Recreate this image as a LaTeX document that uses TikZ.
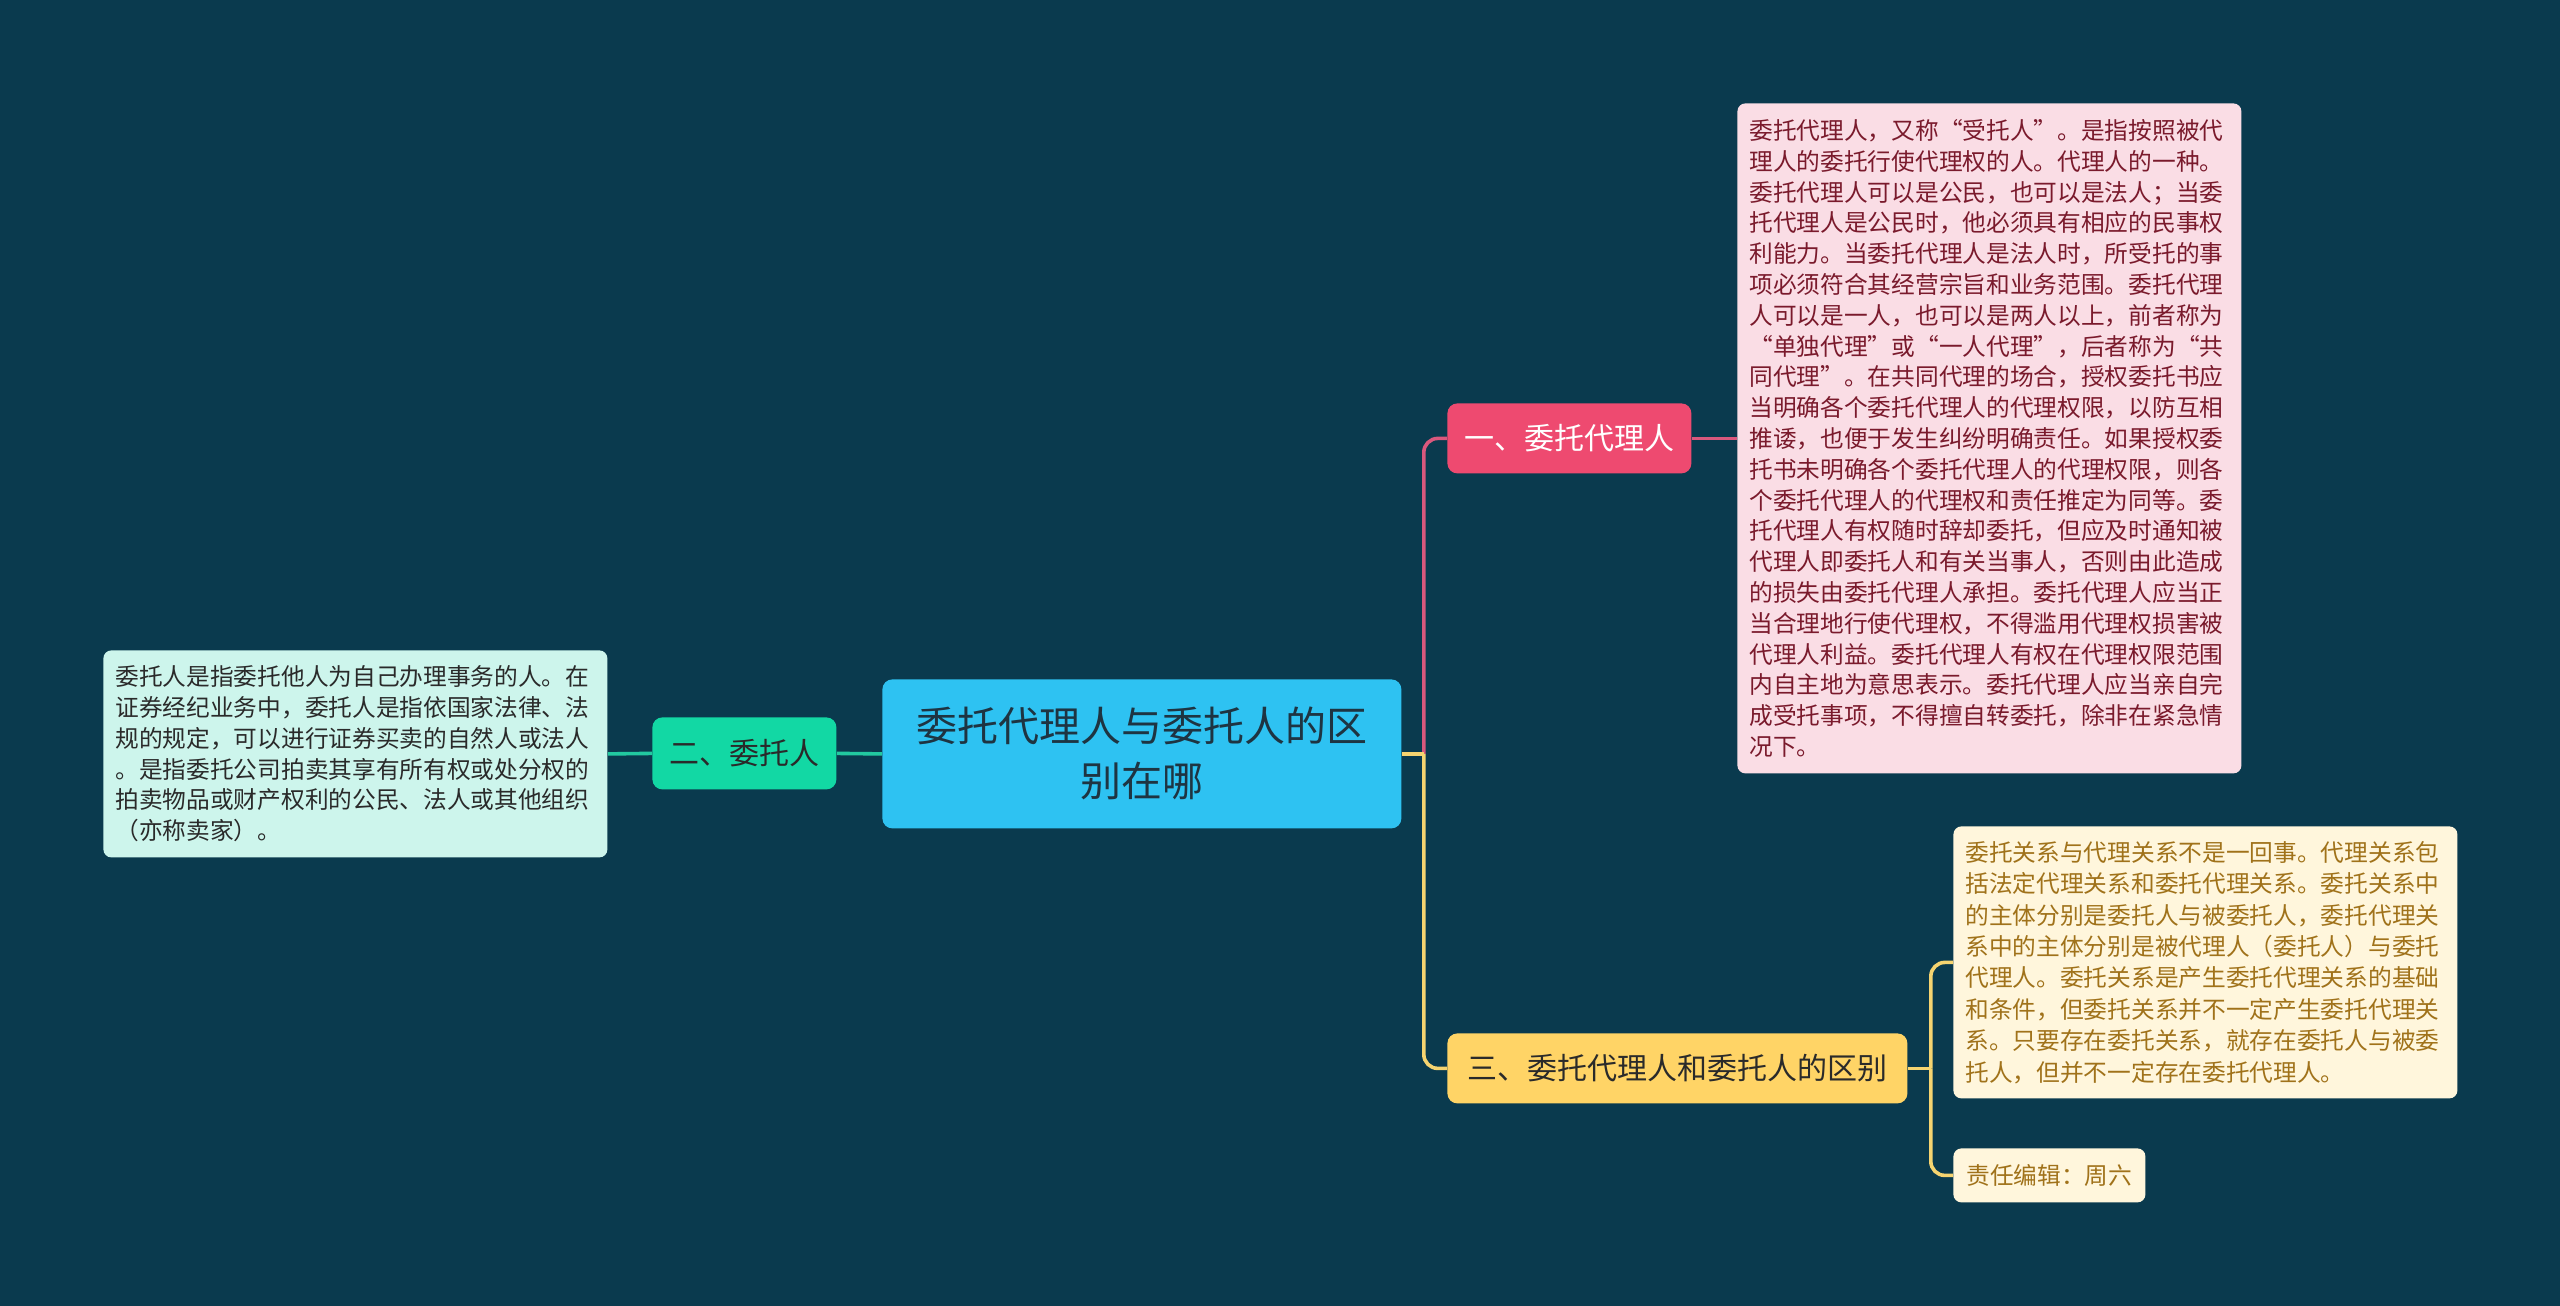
\documentclass[tikz,border=0pt]{standalone}
\usepackage{fontspec}
\setmainfont{Noto Sans CJK SC}
\usepackage{xcolor}
\usepackage{tikz}
\usetikzlibrary{positioning}

\newcommand{\openq}{\makebox[1em][r]{“}}
\newcommand{\closeq}{\makebox[1em][l]{”}}

\definecolor{bgblue}{HTML}{0A3A4E}
\definecolor{rootblue}{HTML}{2EC2F2}
\definecolor{roottext}{HTML}{1E3442}
\definecolor{pinktopic}{HTML}{EE4A70}
\definecolor{pinkline}{HTML}{D9587D}
\definecolor{pinknote}{HTML}{FADDE5}
\definecolor{pinktext}{HTML}{7A1A2C}
\definecolor{greentopic}{HTML}{12D8A4}
\definecolor{greenline}{HTML}{22C9A0}
\definecolor{greennote}{HTML}{CDF5EC}
\definecolor{greentext}{HTML}{2A2A2A}
\definecolor{yellowtopic}{HTML}{FFD466}
\definecolor{yellowline}{HTML}{F6D470}
\definecolor{yellownote}{HTML}{FFF6DC}
\definecolor{yellowtext}{HTML}{A0721A}

\begin{document}
\begin{tikzpicture}[
    x=0.5pt, y=-0.5pt,
    topic/.style={anchor=north west, rounded corners=5pt, inner sep=0pt, minimum height=35pt, font=\fontsize{15pt}{18pt}\selectfont},
    note/.style={anchor=north west, rounded corners=4pt, align=left, inner xsep=6pt, text width=240pt, font=\fontsize{11.85pt}{15.4pt}\selectfont},
    link/.style={line width=1.8pt, rounded corners=7pt}
]

\useasboundingbox (0,0) rectangle (2560,1306);
\fill[bgblue] (0,0) rectangle (2560,1306);

\node[anchor=north west, fill=rootblue, text=roottext, rounded corners=5pt, minimum width=259.5pt, minimum height=74.5pt, align=center, font=\fontsize{20.5pt}{27.5pt}\selectfont] (root) at (882,679) {委托代理人与委托人的区\\别在哪};

\node[topic, fill=pinktopic, text=white, minimum width=122pt] (agent) at (1447,403) {一、委托代理人};
\node[topic, fill=greentopic, text=greentext, minimum width=92pt, minimum height=36pt] (principal) at (652,717) {二、委托人};
\node[topic, fill=yellowtopic, text=greentext, minimum width=230pt] (diff) at (1447,1033) {三、委托代理人和委托人的区别};

\node[note, fill=pinknote, text=pinktext, minimum height=335pt] (agentnote) at (1737,103) {委托代理人，又称\openq 受托人\closeq 。是指按照被代\\理人的委托行使代理权的人。代理人的一种。\\委托代理人可以是公民，也可以是法人；当委\\托代理人是公民时，他必须具有相应的民事权\\利能力。当委托代理人是法人时，所受托的事\\项必须符合其经营宗旨和业务范围。委托代理\\人可以是一人，也可以是两人以上，前者称为\\\openq 单独代理\closeq 或\openq 一人代理\closeq ，后者称为\openq 共\\同代理\closeq 。在共同代理的场合，授权委托书应\\当明确各个委托代理人的代理权限，以防互相\\推诿，也便于发生纠纷明确责任。如果授权委\\托书未明确各个委托代理人的代理权限，则各\\个委托代理人的代理权和责任推定为同等。委\\托代理人有权随时辞却委托，但应及时通知被\\代理人即委托人和有关当事人，否则由此造成\\的损失由委托代理人承担。委托代理人应当正\\当合理地行使代理权，不得滥用代理权损害被\\代理人利益。委托代理人有权在代理权限范围\\内自主地为意思表示。委托代理人应当亲自完\\成受托事项，不得擅自转委托，除非在紧急情\\况下。};

\node[note, fill=greennote, text=greentext, minimum height=103.5pt] (principalnote) at (103,650) {委托人是指委托他人为自己办理事务的人。在\\证券经纪业务中，委托人是指依国家法律、法\\规的规定，可以进行证券买卖的自然人或法人\\。是指委托公司拍卖其享有所有权或处分权的\\拍卖物品或财产权利的公民、法人或其他组织\\（亦称卖家）。};

\node[note, fill=yellownote, text=yellowtext, minimum height=136pt, font=\fontsize{11.85pt}{15.7pt}\selectfont] (diffnote) at (1953,826) {委托关系与代理关系不是一回事。代理关系包\\括法定代理关系和委托代理关系。委托关系中\\的主体分别是委托人与被委托人，委托代理关\\系中的主体分别是被代理人（委托人）与委托\\代理人。委托关系是产生委托代理关系的基础\\和条件，但委托关系并不一定产生委托代理关\\系。只要存在委托关系，就存在委托人与被委\\托人，但并不一定存在委托代理人。};
\node[anchor=north west, fill=yellownote, text=yellowtext, rounded corners=4pt, inner sep=0pt, minimum width=96pt, minimum height=27pt, font=\fontsize{11.85pt}{14pt}\selectfont] (editor) at (1953,1148) {责任编辑：周六};

\coordinate (hub) at ([xshift=11pt]root.east);
\coordinate (diffhub) at ([xshift=11.5pt]diff.east);

\draw[link, pinkline] (hub) |- (agent.west);
\draw[link, yellowline] (root.east) -- (hub);
\draw[link, yellowline] (hub) |- (diff.west);
\draw[link, pinkline] (agent.east) -- (agentnote.west);
\draw[link, greenline] (root.west) -- (principal.east);
\draw[link, greenline] (principal.west) -- (principalnote.east);
\draw[link, yellowline] (diff.east) -- (diffhub);
\draw[link, yellowline] (diffhub) |- (diffnote.west);
\draw[link, yellowline] (diffhub) |- (editor.west);

\end{tikzpicture}
\end{document}
